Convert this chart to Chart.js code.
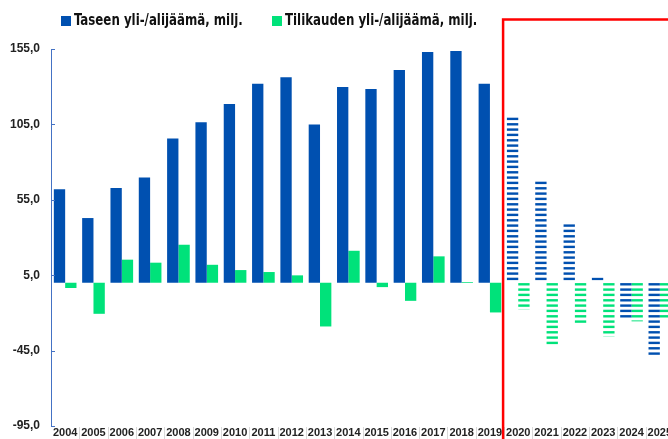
<!DOCTYPE html>
<html>
<head>
<meta charset="utf-8">
<script src="https://cdn.jsdelivr.net/npm/chart.js@4.4.1/dist/chart.umd.min.js"></script>
<style>
    html, body { margin: 0; padding: 0; background: #fff; overflow: hidden; }
    #wrap { position: relative; width: 674px; height: 439px; }
</style>
</head>
<body>
<div id="wrap"><canvas id="chart"></canvas></div>
<script>
const years = ['2004', '2005', '2006', '2007', '2008', '2009', '2010', '2011', '2012', '2013', '2014',
    '2015', '2016', '2017', '2018', '2019', '2020', '2021', '2022', '2023', '2024', '2025'];
const taseen = [62, 42.9, 62.8, 69.8, 95.7, 106.5, 118.5, 132, 136.2, 105, 129.8,
    128.4, 141, 153, 153.6, 132, 110.7, 67.6, 39.6, 3.5, -24, -48.9];
const tilikauden = [-3.5, -20.6, 15.3, 13.3, 25.2, 11.9, 8.4, 7.1, 4.9, -29, 21.2,
    -2.9, -12, 17.5, 0.5, -19.7, -17.9, -42.6, -27.2, -35.6, -25.6, -24.5];
const seriesNames = ['Taseen yli-/alijäämä, milj.', 'Tilikauden yli-/alijäämä, milj.'];
const firstForecast = 16; // 2020 onwards is striped

const BLUE = '#0050b0';
const GREEN = '#00e27a';
const NARROW = '"Liberation Sans Narrow", "DejaVu Sans Condensed", "Liberation Sans", sans-serif';

function stripes(color) {
    const c = document.createElement('canvas');
    c.width = 8;
    c.height = 16;
    const g = c.getContext('2d');
    g.fillStyle = color;
    [0.4, 5.7, 11.1].forEach(y => g.fillRect(0, y, 8, 2.4));
    return g.createPattern(c, 'repeat');
}

const blueStripe = stripes(BLUE);
const greenStripe = stripes(GREEN);
const blueFill = years.map((y, i) => i < firstForecast ? BLUE : blueStripe);
const greenFill = years.map((y, i) => i < firstForecast ? GREEN : greenStripe);

// legend drawn by hand so it can sit left of centre like the original
const legendPlugin = {
    id: 'manualLegend',
    afterDraw(chart) {
        const ctx = chart.ctx;
        const spots = [61, 272];
        ctx.save();
        ctx.font = 'bold 15px ' + NARROW;
        ctx.textBaseline = 'middle';
        chart.data.datasets.forEach((ds, i) => {
            ctx.fillStyle = ds.legendColor;
            ctx.fillRect(spots[i], 16, 10, 10);
            ctx.save();
            ctx.translate(spots[i] + 13, 21);
            ctx.scale(0.875, 1);
            ctx.fillStyle = '#111';
            ctx.fillText(ds.label, 0, 0);
            ctx.restore();
        });
        ctx.restore();
    }
};

// inside tick marks, category separators under the plot and the red forecast frame
const framePlugin = {
    id: 'frame',
    afterDraw(chart) {
        const ctx = chart.ctx;
        const y = chart.scales.y;
        const x = chart.scales.x;
        const area = chart.chartArea;
        ctx.save();
        ctx.strokeStyle = '#4472c4';
        ctx.lineWidth = 1;
        y.ticks.forEach(t => {
            const py = Math.round(y.getPixelForValue(t.value)) + 0.5;
            ctx.beginPath();
            ctx.moveTo(area.left, py);
            ctx.lineTo(area.left + 4, py);
            ctx.stroke();
        });
        ctx.strokeStyle = '#d9d9d9';
        for (let i = 0; i < years.length - 1; i++) {
            const px = Math.round((x.getPixelForValue(i) + x.getPixelForValue(i + 1)) / 2) + 0.5;
            ctx.beginPath();
            ctx.moveTo(px, area.bottom + 1);
            ctx.lineTo(px, chart.height);
            ctx.stroke();
        }
        const split = (x.getPixelForValue(firstForecast - 1) + x.getPixelForValue(firstForecast)) / 2;
        ctx.strokeStyle = '#ff0000';
        ctx.lineWidth = 2.5;
        ctx.strokeRect(split - 1, 19.5, chart.width + 20, chart.height + 20);
        ctx.restore();
    }
};

new Chart(document.getElementById('chart'), {
    type: 'bar',
    data: {
        labels: years,
        datasets: [{
            label: seriesNames[0],
            data: taseen,
            backgroundColor: blueFill,
            legendColor: BLUE
        }, {
            label: seriesNames[1],
            data: tilikauden,
            backgroundColor: greenFill,
            legendColor: GREEN
        }]
    },
    options: {
        responsive: true,
        maintainAspectRatio: false,
        animation: false,
        layout: { padding: { top: 49, left: 0, right: 0, bottom: 0 } },
        datasets: {
            bar: { categoryPercentage: 0.8, barPercentage: 1.0 }
        },
        plugins: {
            legend: { display: false },
            tooltip: { enabled: false }
        },
        scales: {
            x: {
                afterFit: s => { s.height = 13; },
                border: { display: false },
                grid: { display: false, drawTicks: false },
                ticks: {
                    padding: 1,
                    maxRotation: 0,
                    autoSkip: false,
                    color: '#222',
                    font: { family: '"Liberation Sans", Arial, sans-serif', size: 11, weight: 'bold', lineHeight: 1.1 }
                }
            },
            y: {
                min: -95,
                max: 155,
                afterFit: s => {
                    s.width = 51;
                    s.paddingTop = 0;
                    s.paddingBottom = 0;
                },
                border: { display: true, color: '#4472c4', width: 1 },
                grid: { display: false, drawTicks: false },
                ticks: {
                    stepSize: 50,
                    padding: 11,
                    color: '#222',
                    font: { family: '"Liberation Sans", Arial, sans-serif', size: 12, weight: 'bold' },
                    callback: v => v.toFixed(1).replace('.', ',')
                }
            }
        }
    },
    plugins: [legendPlugin, framePlugin]
});
</script>
</body>
</html>
